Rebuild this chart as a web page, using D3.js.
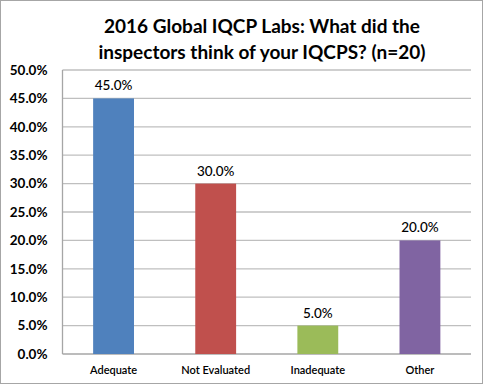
<!DOCTYPE html>
<html><head><meta charset="utf-8">
<script src="https://cdn.jsdelivr.net/npm/d3@7"></script>
<style>body{margin:0;background:#fff}svg{display:block}</style>
</head><body>
<script>
const categories = ["Adequate", "Not Evaluated", "Inadequate", "Other"];
const values = [45.0, 30.0, 5.0, 20.0];
const colors = ["#4F81BD", "#C0504D", "#9BBB59", "#8064A2"];
const yTicks = [0, 5, 10, 15, 20, 25, 30, 35, 40, 45, 50];
const titleLines = ["2016 Global IQCP Labs: What did the", "inspectors think of your IQCPS? (n=20)"];

const W = 484, H = 385;
const m = {left: 62.5, right: 13, top: 70, bottom: 31};
const svg = d3.select("body").append("svg").attr("width", W).attr("height", H);
svg.append("rect").attr("x", 0.5).attr("y", 0.5).attr("width", W - 2).attr("height", H - 2)
  .attr("fill", "#fff").attr("stroke", "#A6A6A6").attr("stroke-width", 1);

const x = d3.scaleBand().domain(categories).range([m.left, W - m.right]).paddingInner(0.6).paddingOuter(0.3);
const y = d3.scaleLinear().domain([0, 50]).range([H - m.bottom, m.top]);

const font = "Lato, 'Open Sans', sans-serif";

// gridlines
svg.append("g").selectAll("line").data(yTicks.filter(d => d > 0)).join("line")
  .attr("x1", m.left).attr("x2", W - m.right)
  .attr("y1", d => y(d)).attr("y2", d => y(d))
  .attr("stroke", "#BFBFBF").attr("stroke-width", 1.3);

// axes lines
svg.append("line").attr("x1", m.left).attr("x2", m.left).attr("y1", y(50)).attr("y2", y(0))
  .attr("stroke", "#A6A6A6").attr("stroke-width", 1.3);
svg.append("line").attr("x1", m.left).attr("x2", W - m.right).attr("y1", y(0)).attr("y2", y(0))
  .attr("stroke", "#A6A6A6").attr("stroke-width", 1.3);

// y axis labels
const yAxis = d3.axisLeft(y).tickValues(yTicks).tickSize(0).tickPadding(15).tickFormat(d => d.toFixed(1) + "%");
const ga = svg.append("g").attr("transform", `translate(${m.left},0)`).call(yAxis);
ga.select(".domain").remove();
ga.selectAll("text").attr("font-family", font).attr("font-size", 13.5).attr("font-weight", "bold").attr("fill", "#000");

// bars
svg.append("g").selectAll("rect").data(values).join("rect")
  .attr("x", (d, i) => x(categories[i])).attr("width", x.bandwidth())
  .attr("y", d => y(d)).attr("height", d => y(0) - y(d))
  .attr("fill", (d, i) => colors[i]);

// data labels
svg.append("g").selectAll("text").data(values).join("text")
  .attr("x", (d, i) => x(categories[i]) + x.bandwidth() / 2)
  .attr("y", d => y(d) - 8)
  .attr("text-anchor", "middle").attr("font-family", font).attr("font-size", 13.5).attr("font-weight", 500).attr("fill", "#000")
  .text(d => d.toFixed(1) + "%");

// x axis labels
const xAxis = d3.axisBottom(x).tickSize(0).tickPadding(12);
const gx = svg.append("g").attr("transform", `translate(0,${y(0)})`).call(xAxis);
gx.select(".domain").remove();
gx.selectAll("text").attr("font-family", font).attr("font-size", 11).attr("font-weight", 600).attr("fill", "#000");

// title
svg.append("g").selectAll("text").data(titleLines).join("text")
  .attr("x", 262).attr("y", (d, i) => 33 + i * 26)
  .attr("text-anchor", "middle").attr("font-family", font).attr("font-size", 19).attr("font-weight", "bold").attr("fill", "#000")
  .text(d => d);
</script>
</body></html>
